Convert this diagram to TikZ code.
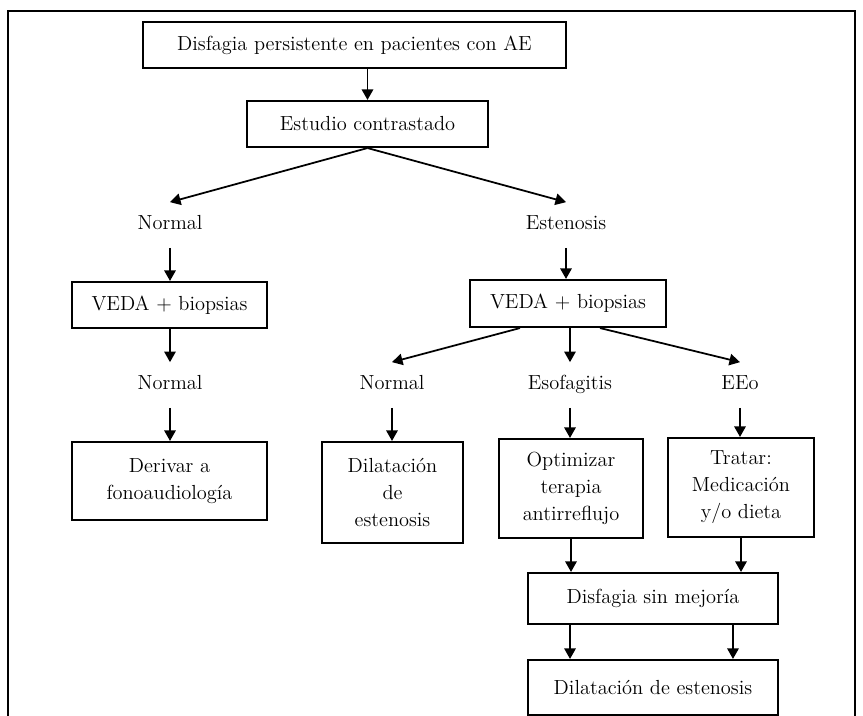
\documentclass[tikz,border=0pt]{standalone}
\usepackage{tikz}
\usetikzlibrary{arrows.meta}
\usetikzlibrary{positioning}
\tikzstyle{box_node} = [
    rectangle,
    draw=black,
    line width=1.2pt,
    align=center,
    inner sep=2pt,
    font=\fontsize{11.6}{15.3}\selectfont
]
\tikzstyle{label_node} = [
    align=center,
    inner sep=0pt,
    minimum height=0.9cm, % leaves the gap above and below the text
    text height=8pt,
    text depth=2.5pt,
    font=\fontsize{11.6}{15.3}\selectfont
]
\tikzstyle{flow} = [
    -{Triangle[length=6pt, width=6.5pt]},
    line width=1pt
]
\tikzstyle{frame_line} = [
    line width=1.4pt
]

\begin{document}
\begin{tikzpicture}[x=0.02cm, y=-0.02cm]
\useasboundingbox (0,0) rectangle (863,716);
\draw [frame_line] (8,716) -- (8,11) -- (855,11) -- (855,716);

\node [box_node, minimum width=8.46cm, minimum height=0.92cm] (start) at (354.5,45) {Disfagia persistente en pacientes con AE};
\node [box_node, minimum width=4.82cm, minimum height=0.92cm] (estudio) at (367.5,124) {Estudio contrastado};

\node [label_node] (normal_a) at (170,225) {Normal};
\node [label_node] (estenosis) at (566,225) {Estenosis};

\node [box_node, minimum width=3.9cm, minimum height=0.92cm] (veda_a) at (169.5,305) {VEDA + biopsias};
\node [box_node, minimum width=3.92cm, minimum height=0.94cm] (veda_b) at (568,303.5) {VEDA + biopsias};

\node [label_node] (normal_b) at (170,385) {Normal};
\node [label_node] (normal_c) at (392,385) {Normal};
\node [label_node] (esofagitis) at (570,385) {Esofagitis};
\node [label_node] (eeo) at (740,385) {EEo};

\node [box_node, minimum width=3.9cm, minimum height=1.56cm] (derivar) at (169.5,481) {Derivar a\\fonoaudiología};
\node [box_node, minimum width=2.82cm, minimum height=2.02cm] (dilatar) at (392.5,492.5) {Dilatación\\de\\estenosis};
\node [box_node, minimum width=2.88cm, minimum height=1.98cm] (optimizar) at (571,488.5) {Optimizar\\terapia\\antirreflujo};
\node [box_node, minimum width=2.92cm, minimum height=1.98cm] (tratar) at (741,487.5) {Tratar:\\Medicación\\y/o dieta};

\node [box_node, minimum width=5.0cm, minimum height=1.02cm] (sin_mejoria) at (653,598.5) {Disfagia sin mejoría};
\node [box_node, minimum width=5.0cm, minimum height=1.1cm] (dilatar_final) at (653,687.5) {Dilatación de estenosis};

\draw [flow] (estudio.north |- start.south) -- (estudio.north);
\draw [flow] (estudio.south) -- (normal_a.north);
\draw [flow] (estudio.south) -- (estenosis.north);

\draw [flow] (normal_a.south) -- (normal_a.south |- veda_a.north);
\draw [flow] (veda_a.south -| normal_b) -- (normal_b.north);
\draw [flow] (normal_b.south) -- (normal_b.south |- derivar.north);

\draw [flow] (estenosis.south) -- (estenosis.south |- veda_b.north);
\draw [flow] ([xshift=-0.96cm]veda_b.south) -- (normal_c.north);
\draw [flow] (veda_b.south -| esofagitis) -- (esofagitis.north);
\draw [flow] ([xshift=0.64cm]veda_b.south) -- (eeo.north);

\draw [flow] (normal_c.south) -- (normal_c.south |- dilatar.north);
\draw [flow] (esofagitis.south) -- (esofagitis.south |- optimizar.north);
\draw [flow] (eeo.south) -- (eeo.south |- tratar.north);

\draw [flow] (optimizar.south) -- (optimizar.south |- sin_mejoria.north);
\draw [flow] (tratar.south) -- (tratar.south |- sin_mejoria.north);
\draw [flow] ([xshift=-1.66cm]sin_mejoria.south) -- ([xshift=-1.66cm]dilatar_final.north);
\draw [flow] ([xshift=1.6cm]sin_mejoria.south) -- ([xshift=1.6cm]dilatar_final.north);
\end{tikzpicture}
\end{document}
